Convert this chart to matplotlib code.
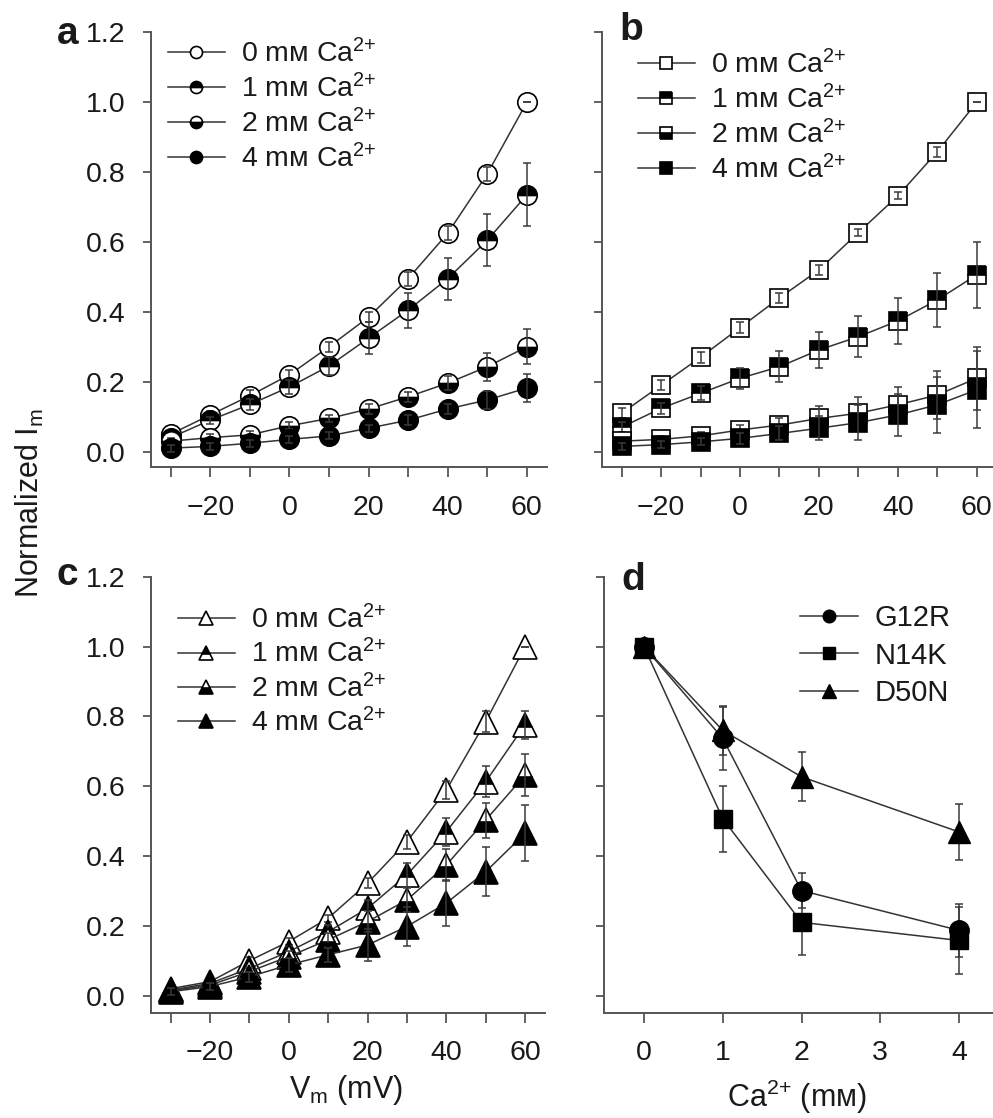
import matplotlib
matplotlib.use("Agg")
import matplotlib.pyplot as plt
import numpy as np

plt.rcParams['font.family'] = ['Liberation Sans', 'DejaVu Sans']
plt.rcParams['mathtext.fontset'] = 'custom'
plt.rcParams['mathtext.rm'] = 'Liberation Sans'
plt.rcParams['mathtext.it'] = 'Liberation Sans:italic'
plt.rcParams['mathtext.default'] = 'regular'

# ---------------- data ----------------
V = [-30, -20, -10, 0, 10, 20, 30, 40, 50, 60]
conc_labels = ["0", "1", "2", "4"]

a_0 = [0.05, 0.105, 0.16, 0.22, 0.30, 0.385, 0.495, 0.625, 0.795, 1.0]
a_0_err = [0.01, 0.01, 0.015, 0.015, 0.015, 0.015, 0.02, 0.02, 0.02, 0.0]
a_1 = [0.04, 0.09, 0.135, 0.185, 0.245, 0.325, 0.405, 0.495, 0.605, 0.735]
a_1_err = [0.01, 0.01, 0.015, 0.02, 0.025, 0.045, 0.05, 0.06, 0.075, 0.09]
a_2 = [0.03, 0.04, 0.048, 0.074, 0.095, 0.122, 0.157, 0.196, 0.243, 0.30]
a_2_err = [0.01, 0.01, 0.01, 0.01, 0.01, 0.015, 0.015, 0.02, 0.04, 0.05]
a_4 = [0.01, 0.015, 0.024, 0.035, 0.045, 0.067, 0.09, 0.122, 0.148, 0.182]
a_4_err = [0.01, 0.01, 0.01, 0.01, 0.01, 0.01, 0.015, 0.015, 0.025, 0.04]

b_0 = [0.11, 0.19, 0.27, 0.355, 0.44, 0.52, 0.627, 0.732, 0.858, 1.0]
b_0_err = [0.015, 0.015, 0.015, 0.015, 0.015, 0.015, 0.01, 0.01, 0.015, 0.0]
b_1 = [0.07, 0.124, 0.167, 0.21, 0.243, 0.291, 0.329, 0.374, 0.434, 0.506]
b_1_err = [0.015, 0.015, 0.02, 0.03, 0.045, 0.052, 0.058, 0.066, 0.078, 0.095]
b_2 = [0.03, 0.035, 0.045, 0.062, 0.076, 0.095, 0.11, 0.134, 0.162, 0.21]
b_2_err = [0.01, 0.01, 0.01, 0.015, 0.02, 0.035, 0.045, 0.05, 0.07, 0.09]
b_4 = [0.015, 0.02, 0.028, 0.038, 0.052, 0.067, 0.083, 0.105, 0.134, 0.177]
b_4_err = [0.01, 0.01, 0.01, 0.015, 0.02, 0.035, 0.05, 0.06, 0.08, 0.11]

c_0 = [0.02, 0.04, 0.10, 0.155, 0.222, 0.322, 0.441, 0.589, 0.785, 1.0]
c_0_err = [0.01, 0.01, 0.01, 0.01, 0.01, 0.015, 0.02, 0.025, 0.03, 0.0]
c_1 = [0.016, 0.035, 0.078, 0.126, 0.183, 0.25, 0.346, 0.47, 0.613, 0.776]
c_1_err = [0.01, 0.01, 0.01, 0.015, 0.02, 0.025, 0.035, 0.04, 0.045, 0.04]
c_2 = [0.014, 0.03, 0.069, 0.112, 0.16, 0.212, 0.274, 0.374, 0.503, 0.632]
c_2_err = [0.01, 0.01, 0.01, 0.015, 0.02, 0.03, 0.035, 0.045, 0.05, 0.06]
c_4 = [0.011, 0.026, 0.054, 0.088, 0.117, 0.145, 0.198, 0.265, 0.355, 0.465]
c_4_err = [0.01, 0.01, 0.015, 0.02, 0.02, 0.045, 0.055, 0.065, 0.07, 0.08]

Ca = [0, 1, 2, 4]
mutants = ["G12R", "N14K", "D50N"]
g12r = [1.0, 0.737, 0.301, 0.187]
g12r_err = [0.0, 0.09, 0.05, 0.075]
n14k = [1.0, 0.507, 0.21, 0.158]
n14k_err = [0.0, 0.095, 0.095, 0.095]
d50n = [1.0, 0.76, 0.627, 0.469]
d50n_err = [0.0, 0.07, 0.07, 0.08]

# ---------------- styling ----------------
W, H = 993, 1118
fig = plt.figure(figsize=(W / 100, H / 100), dpi=100)
TXT = '#1a1a1a'
SPINE = '#555555'
LINEC = '#333333'
ERRC = '#3a3a3a'
TICKFS = 20.5
LEGFS = 20.5


def px_axes(left, right, top, bottom):
    return fig.add_axes([left / W, 1 - bottom / H, (right - left) / W, (bottom - top) / H])


def style_axes(ax, xlim, ylim, xticks, xminor, xlabels_on=True, ylabels_on=True):
    ax.set_xlim(*xlim)
    ax.set_ylim(*ylim)
    for s in ['top', 'right']:
        ax.spines[s].set_visible(False)
    for s in ['left', 'bottom']:
        ax.spines[s].set_color(SPINE)
        ax.spines[s].set_linewidth(1.4)
    ax.set_yticks([0.0, 0.2, 0.4, 0.6, 0.8, 1.0, 1.2])
    ax.set_xticks(xticks)
    if xminor is not None:
        ax.set_xticks(xminor, minor=True)
    ax.tick_params(axis='both', which='both', direction='out', length=6, width=1.3,
                   color=SPINE, labelsize=TICKFS, labelcolor=TXT)
    ax.tick_params(axis='x', which='both', length=7, pad=13)
    ax.tick_params(axis='y', pad=12)
    if ylabels_on:
        ax.set_yticklabels(['0.0', '0.2', '0.4', '0.6', '0.8', '1.0', '1.2'])
    else:
        ax.tick_params(axis='y', labelleft=False)
    if not xlabels_on:
        ax.tick_params(axis='x', labelbottom=False)


fills = [
    dict(mfc='white', fillstyle='full'),
    dict(mfc='black', mfcalt='white', fillstyle='top'),
    dict(mfc='black', mfcalt='white', fillstyle='bottom'),
    dict(mfc='black', fillstyle='full'),
]


def draw_series(ax, x, series, errs, marker, ms, labels):
    handles = []
    for i, (y, e) in enumerate(zip(series, errs)):
        f = fills[i]
        ln, = ax.plot(x, y, color=LINEC, lw=1.1, marker=marker, ms=ms,
                      mec='black', mew=1.2, markerfacecolor=f['mfc'],
                      markerfacecoloralt=f.get('mfcalt', 'white'),
                      fillstyle=f['fillstyle'], zorder=3 + i, label=labels[i])
        ax.errorbar(x, y, yerr=e, fmt='none', ecolor=ERRC, elinewidth=1.1,
                    capsize=3, capthick=1.1, zorder=3.5 + i)
        handles.append(ln)
    return handles


def add_legend(ax, handles, x, y, fs, spacing, mscale):
    ax.legend(handles=handles, loc='upper left', bbox_to_anchor=(x / W, 1 - y / H),
              bbox_transform=fig.transFigure, frameon=False, fontsize=fs,
              handlelength=2.0, handletextpad=0.55, labelspacing=spacing, borderpad=0,
              borderaxespad=0, markerscale=mscale, labelcolor=TXT)


SUP = "$^{2{+}}$"
leg_labels = [f"{c} mᴍ Ca{SUP}" for c in conc_labels]
vx = [-20, 0, 20, 40, 60]
vminor = [-30, -10, 10, 30, 50]

# panel a
axa = px_axes(150.7, 547, 32.4, 467)
style_axes(axa, (-35.05, 65.1), (-0.044, 1.2), vx, vminor)
h = draw_series(axa, V, [a_0, a_1, a_2, a_4], [a_0_err, a_1_err, a_2_err, a_4_err], 'o', 14, leg_labels)
add_legend(axa, h, 168, 39, LEGFS, 0.2, 0.62)

# panel b
axb = px_axes(601.7, 996.4, 32.4, 467)
style_axes(axb, (-35.07, 65), (-0.044, 1.2), vx, vminor, ylabels_on=False)
h = draw_series(axb, V, [b_0, b_1, b_2, b_4], [b_0_err, b_1_err, b_2_err, b_4_err], 's', 13, leg_labels)
add_legend(axb, h, 638, 50, LEGFS, 0.2, 0.62)

# panel c
axc = px_axes(150.7, 544.7, 576.9, 1012.7)
style_axes(axc, (-35.08, 65), (-0.049, 1.2), vx, vminor)
h = draw_series(axc, V, [c_0, c_1, c_2, c_4], [c_0_err, c_1_err, c_2_err, c_4_err], '^', 17, leg_labels)
add_legend(axc, h, 178, 605, LEGFS, 0.18, 0.6)

# panel d
axd = px_axes(604, 998.4, 576.9, 1012.7)
style_axes(axd, (-0.508, 4.5), (-0.049, 1.2), [0, 1, 2, 3, 4], None, ylabels_on=False)
hd = []
for y, e, m, ms, lab in zip([g12r, n14k, d50n], [g12r_err, n14k_err, d50n_err],
                            ['o', 's', '^'], [14, 13, 16], mutants):
    ln, = axd.plot(Ca, y, color=LINEC, lw=1.1, marker=m, ms=ms, mfc='black',
                   mec='black', zorder=3, label=lab)
    axd.errorbar(Ca, y, yerr=e, fmt='none', ecolor=ERRC, elinewidth=1.1,
                 capsize=3, capthick=1.1, zorder=2.5)
    hd.append(ln)
add_legend(axd, hd, 800, 604, 21, 0.33, 0.65)

# panel letters
for lab, x, y in [('a', 57, 34), ('b', 619, 30), ('c', 57, 575), ('d', 621, 580)]:
    fig.text(x / W, 1 - y / H, lab, fontsize=28, fontweight='bold', color=TXT,
             ha='left', va='center')

# axis labels
fig.text(30 / W, 1 - 503 / H, "Normalized I$_{m}$", rotation=90, fontsize=22,
         color=TXT, ha='center', va='center')
fig.text(346 / W, 1 - 1090 / H, "V$_{m}$ (mV)", fontsize=22, color=TXT,
         ha='center', va='center')
fig.text(797 / W, 1 - 1097 / H, f"Ca{SUP} (mᴍ)", fontsize=22, color=TXT,
         ha='center', va='center')

fig.savefig("out.png", dpi=100)
